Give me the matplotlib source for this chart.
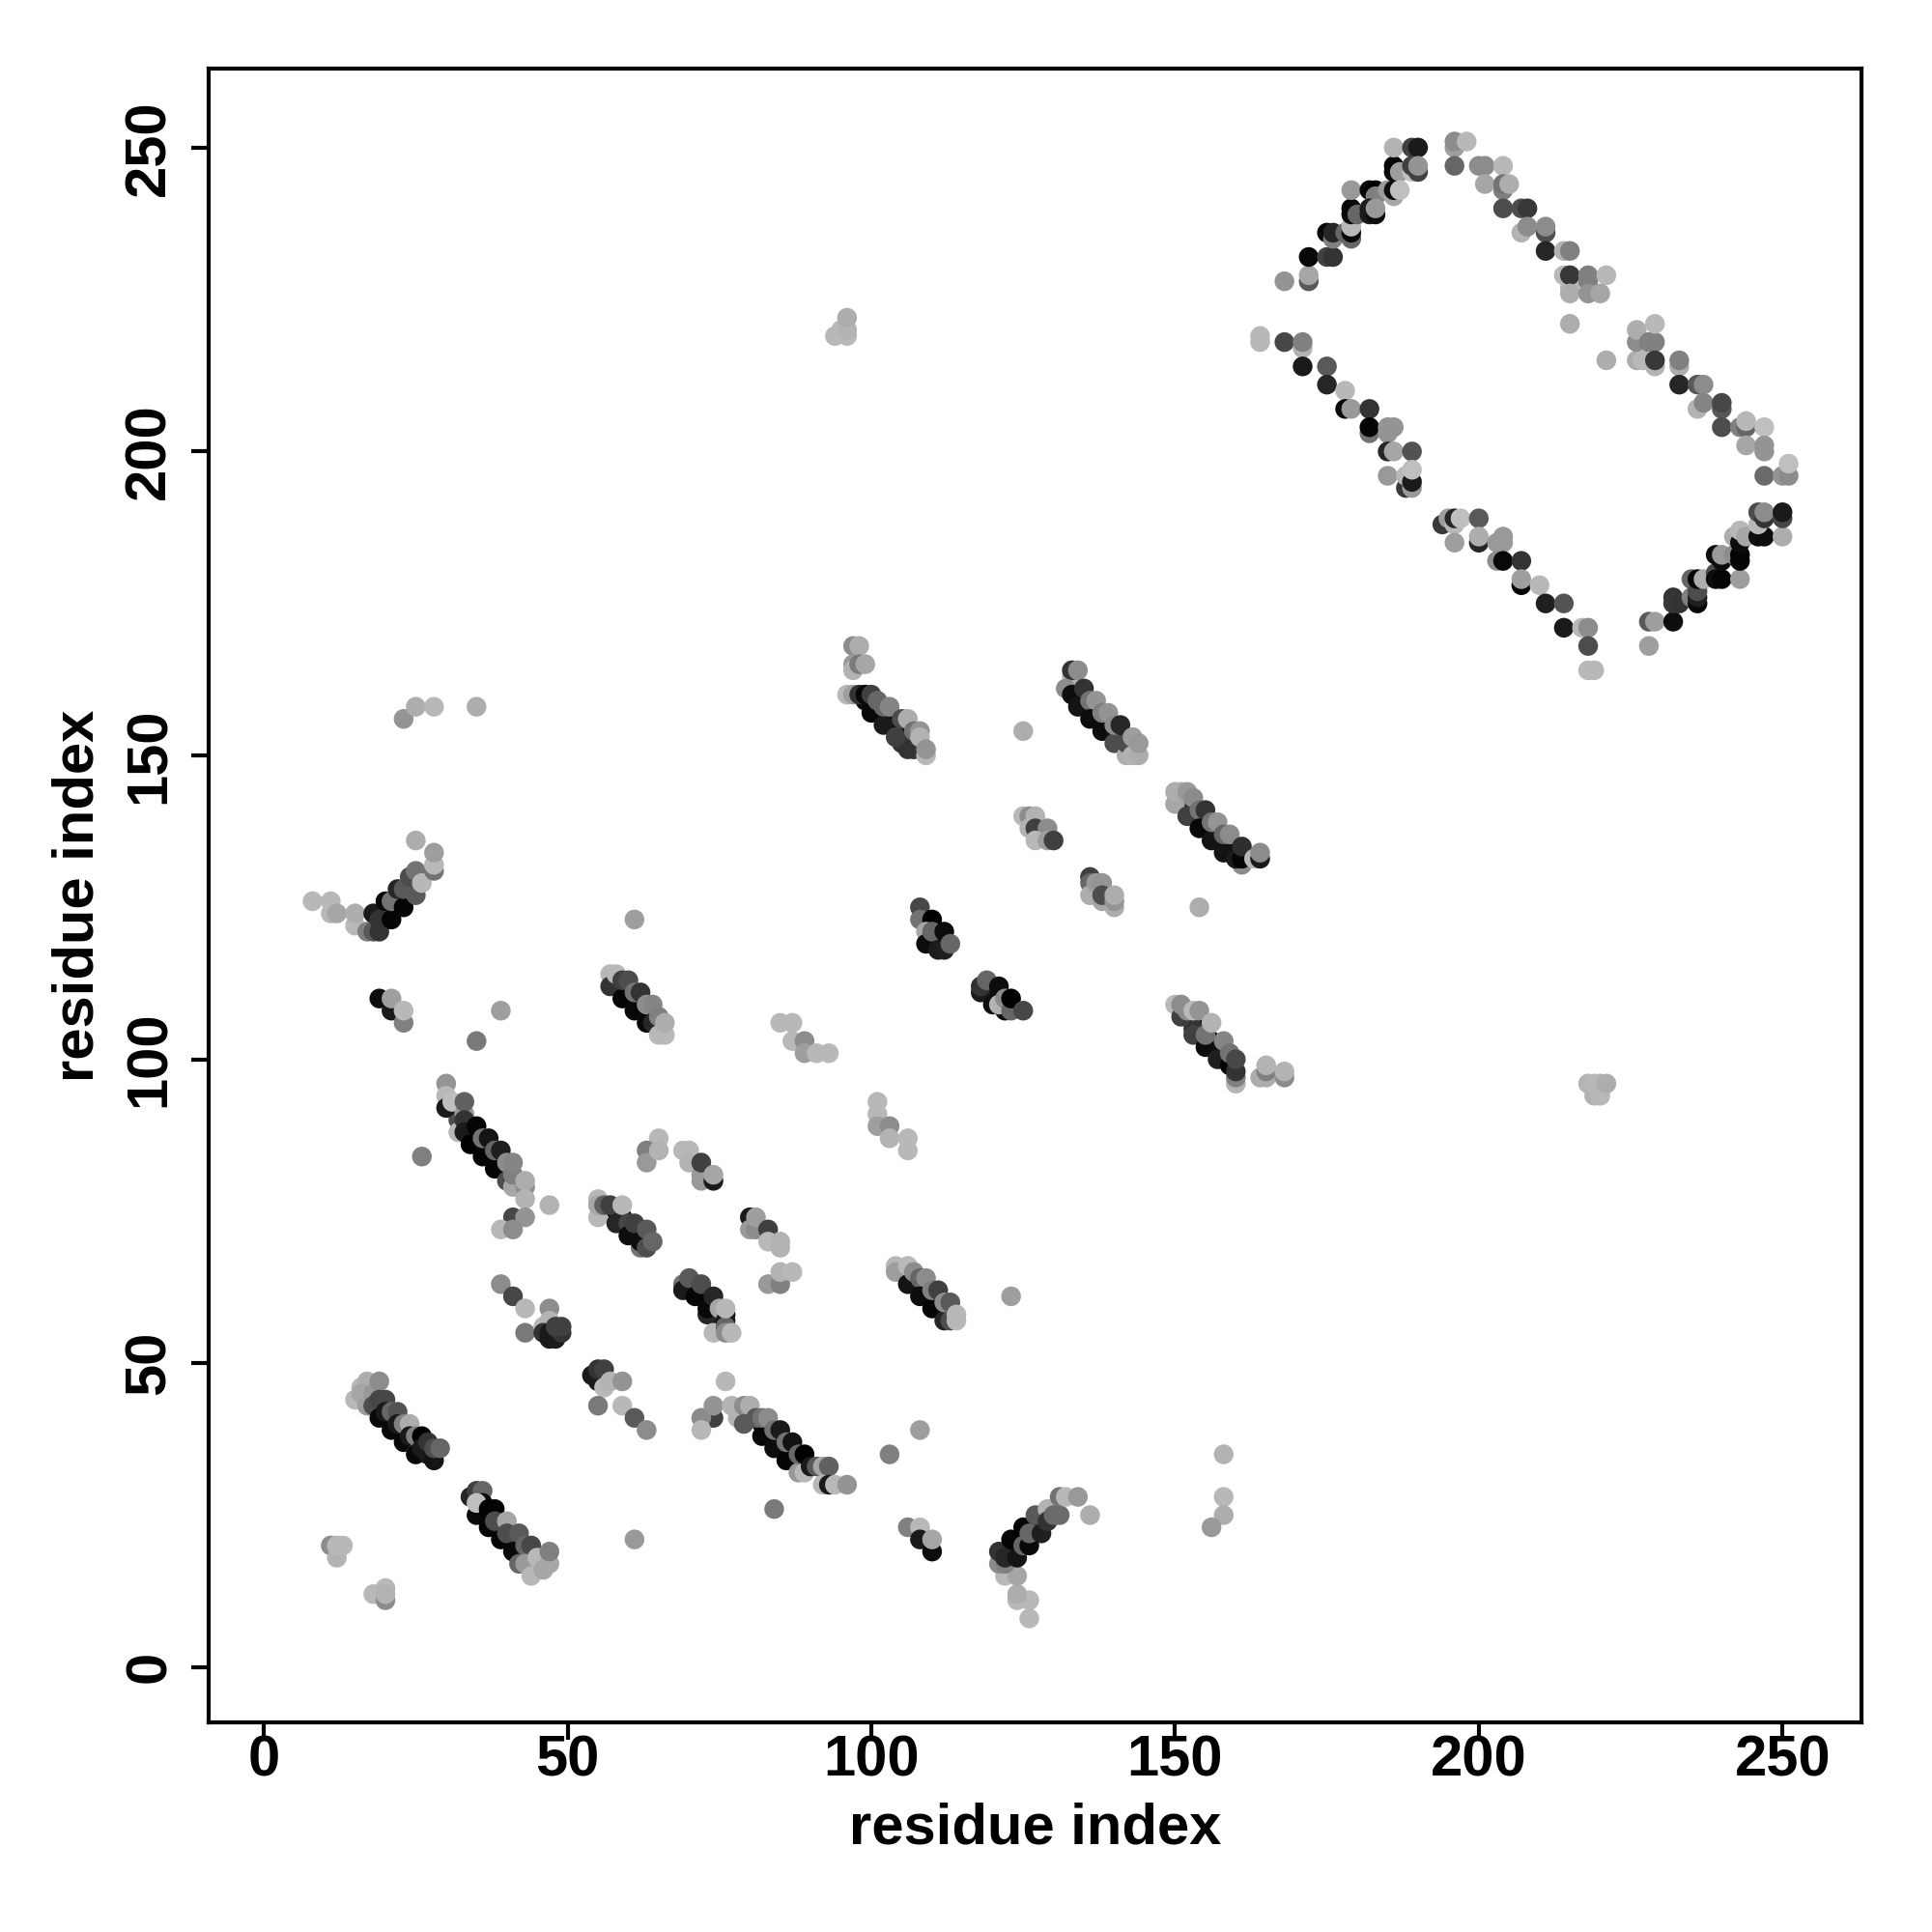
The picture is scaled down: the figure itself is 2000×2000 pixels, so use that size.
import matplotlib
matplotlib.use("Agg")
import matplotlib.pyplot as plt

# (residue i, residue j, grey level of the contact)
stripe_17_47 = [(15,44,.72),(16,46,.72),(17,47,.68),(16,45,.65),(17,43,.62),(18,45,.6),(19,47,.55),(18,43,.3),(19,41,.03),(19,44,.28),(20,44,.28),(21,39,.03),(20,42,.1),(21,42,.4),(22,42,.33),(23,37,.03),(22,40,.1),(23,40,.5),(24,40,.68),(24,38,.1),(25,35,.75),(25,35,.03),(25,38,.5),(26,38,.0),(26,36,.1),(27,35,.1),(28,34,.08),(27,37,.2),(28,36,.3),(29,36,.4)]
stripe_34_29 = [(34,28,.15),(35,29,.25),(36,29,.4),(35,25,.03),(36,27,.05),(35,27,.75),(37,26,.01),(38,26,.01),(37,23,.02),(38,24,.3),(40,24,.65),(39,21,.02),(40,22,.3),(42,22,.35),(41,19,.03),(43,20,.4),(44,20,.28),(42,17,.4),(43,17,.6),(44,15,.72),(45,18,.72),(46,16,.65),(47,17,.65),(47,19,.5)]
few_low_left = [(11,20,.55),(12,18,.7),(12,20,.72),(13,20,.72),(18,12,.72),(20,11,.55),(20,13,.72),(20,12,.7),(61,21,.6),(39,63,.55),(41,61,.28),(43,59,.72),(47,59,.55),(43,55,.48),(46,56,.72),(47,57,.7),(46,55,.2),(47,54,.1),(48,54,.1),(47,55,.1),(49,55,.2),(48,56,.25),(49,56,.25)]
stripe_54_49 = [(54,48,.1),(55,47,.1),(55,49,.2),(56,49,.25),(56,46,.72),(57,47,.7),(59,47,.58),(55,43,.48),(59,43,.72),(61,41,.35),(63,39,.55)]
stripe_80_43 = [(74,41,.25),(72,41,.55),(72,39,.72),(74,43,.58),(76,47,.72),(77,43,.7),(78,41,.7),(79,43,.55),(80,43,.68),(79,40,.35),(82,38,.03),(81,41,.35),(82,41,.45),(83,41,.55),(84,36,.05),(84,39,.45),(85,39,.1),(86,34,.02),(86,37,.45),(87,37,.07),(88,32,.6),(89,32,.72),(88,35,.4),(89,35,.0),(90,33,.1),(91,33,.35),(92,33,.65),(93,33,.38),(92,30,.72),(93,30,.1),(94,30,.72),(96,30,.58),(103,35,.5),(108,39,.62),(84,26,.48),(106,23,.5),(108,23,.72),(108,21,.1),(110,19,.05),(110,21,.65)]
curve_122_28 = [(126,8,.72),(126,11,.72),(124,11,.72),(124,12,.68),(122,15,.72),(124,15,.65),(121,17,.55),(122,17,.5),(121,19,.2),(122,18,.15),(124,18,.08),(123,21,.02),(125,20,.4),(126,20,.03),(125,23,.02),(126,22,.4),(128,22,.12),(127,25,.35),(129,26,.7),(129,24,.2),(130,25,.42),(131,25,.42),(131,28,.45),(132,28,.72),(134,28,.6),(136,25,.68),(123,61,.62),(158,35,.7),(158,28,.72),(158,25,.68),(156,23,.6)]
stripe_30_96 = [(30,96,.58),(30,94,.72),(30,92,.72),(30,92,.1),(31,93,.75),(32,88,.72),(33,91,.6),(33,93,.38),(33,90,.2),(33,88,.1),(34,86,.0),(35,89,.02),(36,84,.02),(36,87,.45),(37,87,.08),(38,82,.02),(38,85,.4),(39,85,.12),(40,80,.3),(40,83,.55),(41,79,.65),(41,81,.5),(41,83,.52),(43,79,.55),(43,80,.68),(43,77,.7),(47,76,.7),(41,74,.28),(43,74,.58),(39,72,.72),(41,72,.55),(26,84,.5)]
stripe_55_77 = [(55,77,.72),(55,74,.72),(55,76,.65),(56,76,.38),(57,76,.25),(58,73,.15),(59,76,.72),(60,73,.28),(60,71,.05),(61,73,.25),(62,69,.45),(62,70,.05),(63,69,.3),(63,72,.35),(64,70,.4)]
patch_65_87 = [(65,87,.72),(63,85,.5),(63,83,.6),(65,85,.7),(69,85,.72),(70,85,.72),(70,83,.7),(72,80,.6),(72,81,.6),(72,83,.25),(74,80,.1),(74,81,.65),(80,74,.1),(80,72,.6),(81,72,.55),(81,74,.62),(83,72,.25),(83,70,.72),(85,70,.7),(85,69,.7),(83,63,.6),(85,63,.5),(85,65,.7),(87,65,.72)]
stripe_70_64 = [(69,63,.45),(69,62,.1),(70,64,.35),(71,61,.02),(72,63,.3),(73,58,.15),(73,59,.03),(74,61,.15),(74,55,.72),(75,59,.65),(76,57,.1),(76,56,.4),(76,59,.72),(76,55,.55),(77,55,.72)]
small_100 = [(85,106,.72),(87,106,.72),(87,103,.72),(89,103,.55),(89,101,.62),(91,101,.72),(93,101,.72),(101,93,.72),(101,91,.72),(101,89,.62),(103,89,.55),(103,87,.7),(106,87,.72),(106,85,.72)]
stripe_104_66 = [(104,66,.72),(104,65,.62),(106,63,.08),(106,66,.72),(107,65,.55),(108,64,.4),(109,64,.55),(108,61,.05),(110,59,.02),(110,62,.5),(111,62,.25),(112,57,.15),(112,60,.55),(113,60,.35),(113,57,.3),(114,58,.72),(114,57,.72)]
top_left = [(23,156,.58),(25,158,.68),(28,158,.72),(35,158,.68),(61,123,.62),(39,108,.62),(35,103,.48),(19,110,.05),(21,108,.1),(21,110,.62),(23,106,.5),(23,108,.72)]
curve_18_124 = [(8,126,.72),(11,126,.72),(11,124,.72),(12,124,.65),(15,122,.72),(15,124,.68),(17,121,.5),(18,121,.35),(19,121,.2),(18,124,.1),(19,123,.2),(20,126,.03),(21,123,.02),(21,126,.45),(22,128,.15),(23,125,.02),(23,128,.35),(24,130,.3),(25,127,.35),(25,131,.45),(26,129,.72),(25,136,.68),(28,131,.45),(28,132,.72),(28,134,.62)]
stripe_57_114 = [(57,114,.72),(57,112,.2),(58,114,.72),(59,110,.02),(59,113,.25),(60,113,.3),(61,108,.03),(61,111,.45),(62,111,.2),(63,106,.03),(63,109,.55),(64,109,.52),(64,106,.15),(65,107,.5),(65,104,.72),(66,104,.72),(66,106,.68)]
stripe_96_160 = [(97,168,.55),(98,168,.68),(97,165,.6),(97,164,.7),(98,165,.48),(99,165,.65),(96,160,.72),(97,160,.62),(98,160,.2),(99,160,.03),(100,157,.03),(100,160,.25),(101,159,.4),(102,155,.1),(102,158,.4),(103,158,.52),(104,153,.25),(105,156,.3),(106,156,.68),(107,151,.2),(107,154,.45),(108,154,.58),(108,153,.7),(109,150,.72),(109,151,.58)]
stripe_133_164 = [(133,163,.7),(133,164,.2),(134,164,.55),(132,161,.55),(133,160,.05),(135,161,.2),(134,158,.08),(136,159,.45),(137,159,.58),(136,156,.05),(138,154,.05),(138,157,.5),(139,157,.58),(140,152,.3),(140,155,.55),(141,155,.15),(142,150,.68),(142,152,.3),(143,150,.7),(144,150,.68),(143,153,.62),(144,152,.6),(125,154,.68)]
patch_125_140 = [(125,140,.72),(126,140,.55),(127,140,.7),(126,138,.7),(127,138,.25),(129,138,.55),(127,136,.72),(129,136,.62),(130,136,.25),(154,125,.68)]
stripe_150_144 = [(150,142,.65),(150,144,.68),(151,144,.68),(152,144,.6),(153,143,.55),(152,140,.25),(154,141,.45),(155,141,.2),(154,138,.03),(156,136,.08),(156,139,.45),(157,139,.58),(158,134,.08),(158,137,.4),(159,137,.55),(161,132,.55),(160,133,.1),(161,133,.02),(161,135,.18),(163,133,.72),(164,133,.1),(164,134,.55)]
patch_108_125 = [(108,125,.28),(108,123,.45),(110,123,.0),(109,121,.65),(109,119,.05),(110,121,.4),(111,118,.1),(112,118,.12),(112,121,.05),(113,119,.4)]
patch_118_112 = [(118,111,.1),(118,112,.2),(119,113,.4),(120,109,.05),(121,109,.7),(121,112,.05),(122,110,.55),(123,108,.4),(123,110,.0),(125,108,.28)]
patch_136_130 = [(136,130,.25),(136,129,.4),(136,127,.68),(137,129,.6),(138,129,.58),(138,126,.65),(138,127,.3),(140,125,.68),(140,126,.58),(140,127,.68)]
stripe_150_109 = [(150,109,.72),(151,107,.25),(151,109,.55),(152,108,.55),(153,104,.25),(153,108,.72),(154,108,.58),(155,102,.05),(155,104,.45),(156,106,.7),(157,100,.12),(158,103,.52),(159,99,.02),(159,101,.45),(160,96,.7),(160,97,.5),(160,98,.2),(160,100,.28),(164,97,.68),(165,97,.68),(165,98,.5),(165,99,.7),(168,97,.55),(168,98,.7)]
isolated_far = [(218,96,.7),(219,94,.7),(220,94,.72),(219,96,.72),(220,96,.72),(221,96,.68),(94,219,.72),(95,220,.72),(96,219,.72),(96,220,.7),(96,222,.68)]
ring_top_left = [(168,228,.58),(172,228,.35),(172,229,.65),(172,232,.03),(175,232,.25),(176,232,.2),(175,236,.03),(176,235,.5),(176,236,.15),(178,236,.4),(179,235,.4),(179,236,.03),(179,237,.72),(179,239,.05),(179,240,.03),(180,239,.4),(179,243,.6),(182,243,.03),(183,243,.0),(183,242,.5),(182,239,.1),(182,240,.1),(183,239,.05),(183,240,.6),(185,243,.6),(186,242,.65),(186,246,.05),(186,247,.03),(187,246,.62),(186,243,.05),(187,243,.75),(186,250,.7),(189,250,.25),(190,250,.1),(189,246,.75),(189,247,.25),(190,246,.25),(190,247,.58)]
ring_top_right = [(196,250,.62),(196,251,.55),(198,251,.72),(196,247,.4),(200,247,.55),(201,247,.55),(204,247,.72),(201,244,.65),(204,243,.5),(204,244,.45),(205,244,.68),(204,240,.3),(207,240,.3),(208,240,.22),(207,236,.7),(208,237,.55),(211,236,.3),(211,237,.55),(211,233,.15),(214,233,.7),(215,233,.5),(214,229,.72),(215,227,.72),(215,229,.22),(218,228,.5),(218,229,.5),(221,229,.72),(215,226,.68),(218,226,.58),(220,226,.65),(215,221,.68)]
ring_low_left = [(164,219,.72),(164,218,.72),(168,218,.28),(171,217,.7),(171,218,.5),(171,214,.1),(175,214,.35),(175,211,.15),(178,210,.72),(178,207,.03),(179,207,.6),(182,207,.2),(182,203,.45),(182,204,.02),(185,203,.58),(185,204,.58),(186,204,.58),(185,200,.15),(186,200,.65),(189,200,.32),(185,196,.6),(188,194,.22),(188,196,.72),(189,194,.6),(189,195,.1),(189,197,.75)]
ring_bottom_left = [(194,188,.22),(195,189,.62),(196,188,.72),(196,189,.15),(197,189,.75),(200,189,.35),(196,185,.62),(200,185,.15),(200,186,.68),(203,185,.6),(204,185,.6),(204,186,.6),(203,182,.55),(204,182,.03),(207,182,.2),(207,178,.02),(207,179,.62),(210,178,.72),(211,175,.12),(214,175,.33),(214,171,.1),(217,171,.72),(218,171,.55),(218,168,.3),(218,164,.72),(219,164,.72)]
ring_bottom_right = [(228,168,.62),(228,172,.35),(229,172,.62),(232,172,.05),(232,176,.2),(232,175,.22),(233,175,.2),(235,176,.5),(236,175,.03),(236,176,.12),(235,179,.4),(236,177,.3),(236,179,.03),(237,179,.68),(239,180,.3),(239,179,.05),(240,179,.02),(243,179,.62),(239,183,.05),(240,182,.05),(240,183,.6),(242,183,.55),(243,182,.03),(243,183,.02),(242,186,.68),(243,185,.05),(243,187,.72),(244,186,.65),(246,186,.05),(247,186,.05),(250,186,.68),(246,188,.72),(246,190,.3),(247,189,.2),(247,190,.55),(250,189,.28),(250,190,.1)]
ring_right = [(221,215,.68),(226,215,.68),(226,218,.55),(226,220,.68),(227,215,.72),(229,214,.7),(228,218,.5),(229,218,.5),(229,221,.72),(229,215,.22),(233,214,.68),(233,215,.5),(233,211,.15),(236,211,.35),(237,211,.55),(236,207,.7),(237,208,.52),(240,207,.35),(240,208,.28),(240,204,.3),(243,204,.5),(244,204,.4),(244,205,.72),(247,204,.75),(244,201,.65),(247,200,.58),(247,201,.58),(247,196,.42),(250,196,.58),(251,196,.55),(251,198,.75)]

# contacts mostly hidden under the others, in the core of each stripe
core_a = [(19,43,.03),(21,41,.03),(23,39,.03),(25,37,.03),(27,35,.05),(20,43,.35),(22,41,.35),(24,39,.35),(26,37,.3)]
core_b = [(36,26,.03),(38,24,.02),(40,22,.02),(42,20,.03),(37,25,.03),(39,23,.03),(41,21,.03),(39,24,.35),(41,22,.35),(43,20,.35)]
core_c = [(82,40,.03),(83,39,.03),(84,38,.03),(85,37,.03),(86,36,.03),(87,35,.03),(88,34,.03),(83,40,.4),(85,38,.4),(87,36,.4)]
core_d = [(33,89,.03),(34,88,.03),(35,87,.03),(36,86,.03),(37,85,.03),(38,84,.03),(39,83,.03),(40,82,.03),(35,88,.4),(37,86,.4),(39,84,.4),(32,90,.3),(32,91,.3)]
core_e = [(58,75,.05),(59,74,.05),(61,72,.05),(62,71,.05),(63,70,.05)]
core_f = [(71,63,.05),(72,62,.05),(73,61,.05),(74,60,.05),(75,58,.05),(76,58,.05),(75,57,.1)]
core_g = [(106,65,.05),(107,64,.05),(108,63,.05),(109,62,.05),(110,61,.05),(111,60,.05),(112,59,.05)]
core_h = [(19,122,.03),(20,124,.03),(21,125,.03),(22,126,.03),(23,127,.03),(24,128,.03),(21,124,.4),(23,126,.4)]
core_i = [(122,19,.03),(123,19,.03),(124,20,.03),(125,21,.03),(126,23,.03),(127,23,.03),(128,24,.03)]
core_j = [(59,112,.03),(60,111,.03),(61,110,.03),(62,109,.03),(63,108,.03),(64,107,.03)]
core_k = [(99,159,.05),(100,159,.05),(101,158,.05),(102,157,.05),(103,156,.05),(104,155,.05),(105,154,.05),(106,153,.05),(105,152,.2),(106,151,.2)]
core_l = [(134,160,.03),(135,159,.03),(136,158,.03),(137,157,.03),(138,156,.03),(139,155,.03),(140,154,.03),(141,153,.03),(133,161,.1)]
core_m = [(153,141,.03),(154,140,.03),(155,139,.03),(156,138,.03),(157,137,.03),(158,136,.03),(159,135,.03),(160,134,.03),(152,142,.1),(153,140,.1)]
core_n = [(153,106,.05),(154,105,.05),(156,103,.05),(157,102,.05),(158,101,.05),(159,100,.05),(153,105,.2),(154,104,.2)]
core_o = [(109,122,.05),(110,120,.05),(111,119,.05),(111,120,.05),(112,119,.05)]
core_p = [(119,111,.05),(120,111,.05),(121,110,.05),(122,109,.05),(122,108,.05)]

groups = [core_a, core_b, core_c, core_d, core_e, core_f, core_g, core_h,
          core_i, core_j, core_k, core_l, core_m, core_n, core_o, core_p,
          stripe_17_47, stripe_34_29, few_low_left, stripe_54_49, stripe_80_43,
          curve_122_28, stripe_30_96, stripe_55_77, patch_65_87, stripe_70_64,
          small_100, stripe_104_66, top_left, curve_18_124, stripe_57_114,
          stripe_96_160, stripe_133_164, patch_125_140, stripe_150_144,
          patch_108_125, patch_118_112, patch_136_130, stripe_150_109,
          isolated_far, ring_top_left, ring_top_right, ring_low_left,
          ring_bottom_left, ring_bottom_right, ring_right]

ticks = [0, 50, 100, 150, 200, 250]
axis_label = "residue index"

plt.rcParams['font.family'] = ['Liberation Sans']
fig = plt.figure(figsize=(10, 10), dpi=200)
ax = fig.add_axes([216/2000, 1 - 1783/2000, (1927-216)/2000, (1783-71)/2000])

for group in groups:
    xs = [p[0] for p in group]
    ys = [p[1] for p in group]
    cs = [str(p[2]) for p in group]
    ax.scatter(xs, ys, s=54, c=cs, linewidths=0, zorder=3)

ax.set_xlim(-9.1, 263)
ax.set_ylim(-9.1, 263)
ax.set_xticks(ticks)
ax.set_yticks(ticks)
ax.tick_params(axis='x', length=6.5, width=1.5, labelsize=21.5, pad=-2)
ax.tick_params(axis='y', length=6.5, width=1.5, labelsize=21.5, pad=5.5)
for lab in ax.get_xticklabels():
    lab.set_fontweight('bold')
for lab in ax.get_yticklabels():
    lab.set_fontweight('bold')
    lab.set_rotation(90)
    lab.set_va('center')
for s in ax.spines.values():
    s.set_linewidth(1.5)
ax.set_xlabel(axis_label, fontsize=21.5, fontweight='bold', labelpad=5.5)
ax.set_ylabel(axis_label, fontsize=21.5, fontweight='bold', labelpad=7)
fig.savefig("out.png", dpi=200)
